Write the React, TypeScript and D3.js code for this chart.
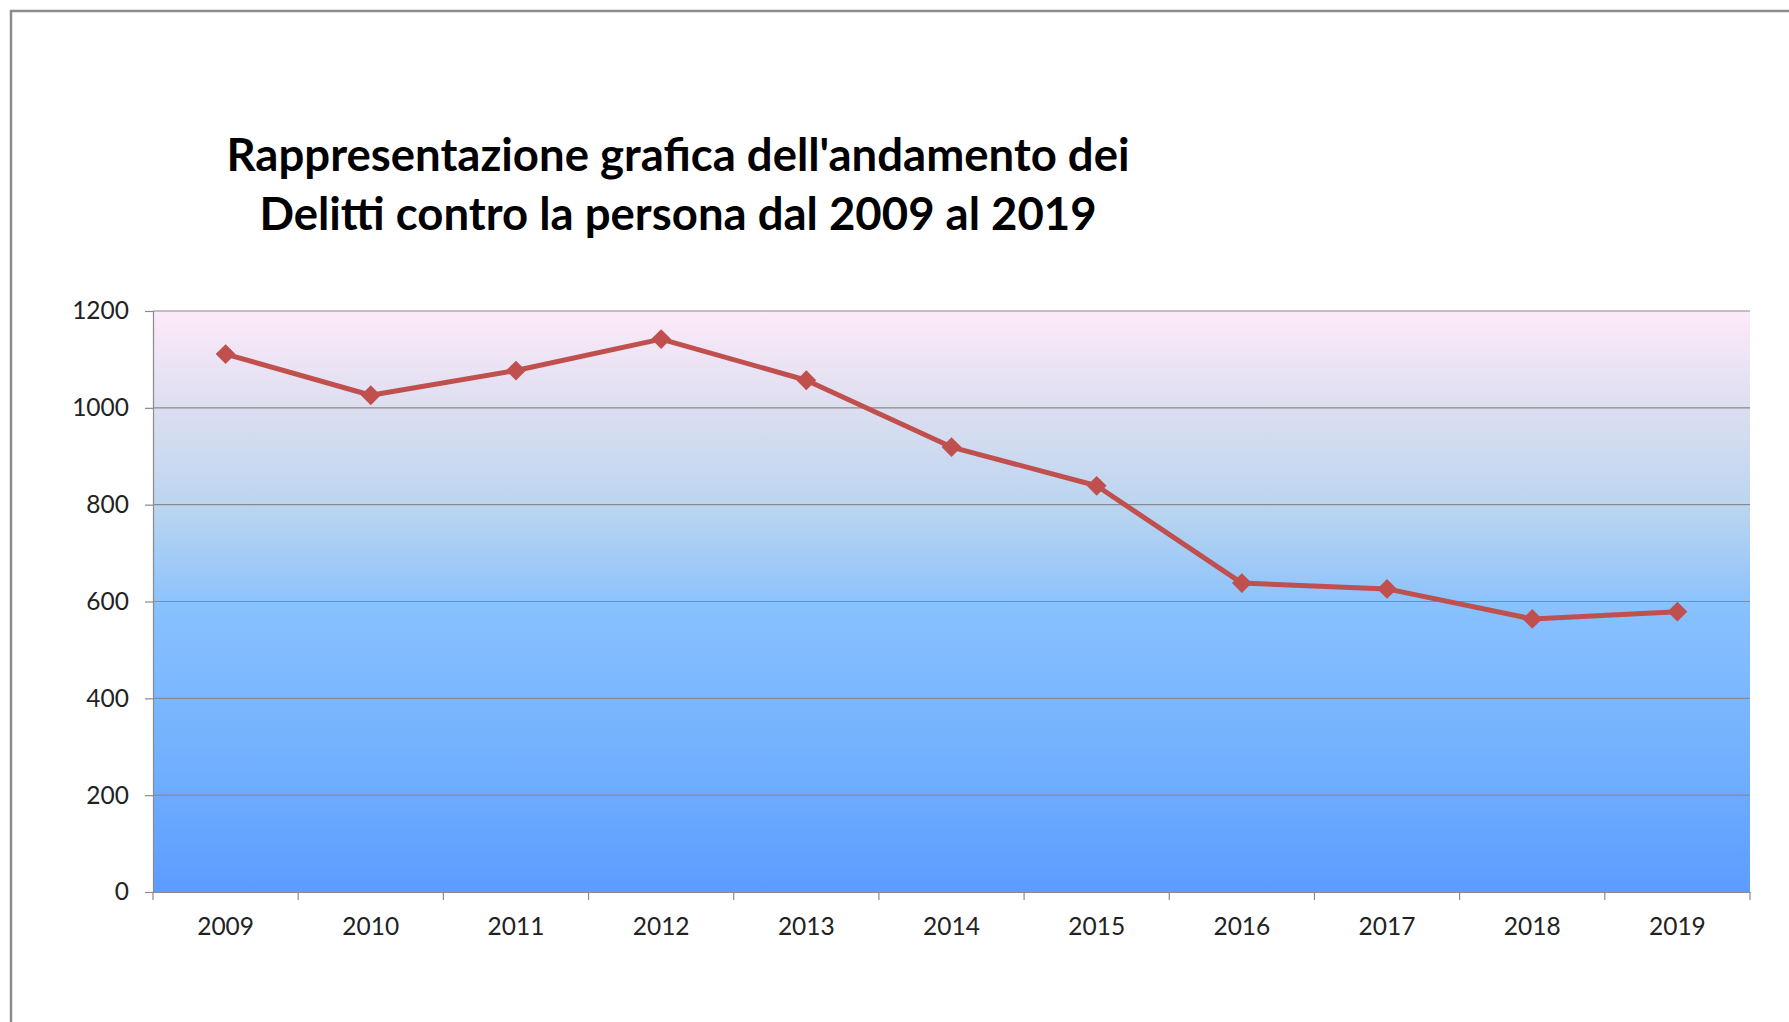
import { useEffect, useRef } from 'react'
import * as d3 from 'd3'

const years = ['2009', '2010', '2011', '2012', '2013', '2014', '2015', '2016', '2017', '2018', '2019']
const delitti = [1111, 1026, 1077, 1142, 1057, 919, 839, 638, 626, 564, 579]
const yTicks = [0, 200, 400, 600, 800, 1000, 1200]
const titleLines = [
  "Rappresentazione grafica dell'andamento dei",
  'Delitti contro la persona dal 2009 al 2019',
]

export default function App() {
  const chartRef = useRef<SVGSVGElement | null>(null)

  useEffect(() => {
    const W = 1789
    const H = 1022
    const margin = { top: 311, right: 39, bottom: 130, left: 153 }
    const width = W - margin.left - margin.right
    const height = H - margin.top - margin.bottom

    const root = d3.select(chartRef.current)
    root.selectAll('*').remove()

    // outer chart frame
    root.append('rect')
      .attr('x', 11).attr('y', 11)
      .attr('width', W + 20).attr('height', H + 20)
      .attr('fill', '#fff')
      .attr('stroke', '#8c8c8c')
      .attr('stroke-width', 2.5)

    const grad = root.append('defs').append('linearGradient')
      .attr('id', 'bg').attr('x1', 0).attr('y1', 0).attr('x2', 0).attr('y2', 1)
    const stops: [number, string][] = [
      [0, '#fdeaf9'],
      [0.17, '#dcdef0'],
      [0.35, '#b8d4f0'],
      [0.52, '#87c0fd'],
      [0.75, '#74b2ff'],
      [1, '#5c9cff'],
    ]
    stops.forEach(([o, c]) => grad.append('stop').attr('offset', o).attr('stop-color', c))

    const g = root.append('g').attr('transform', `translate(${margin.left},${margin.top})`)

    const x = d3.scaleBand().domain(years).range([0, width])
    const y = d3.scaleLinear().domain([0, 1200]).range([height, 0])

    g.append('rect')
      .attr('width', width).attr('height', height)
      .attr('fill', 'url(#bg)')

    // gridlines
    g.selectAll('.grid')
      .data(yTicks.filter(t => t > 0))
      .enter().append('line')
      .attr('x1', 0).attr('x2', width)
      .attr('y1', d => y(d)).attr('y2', d => y(d))
      .attr('stroke', '#8a8a8a').attr('stroke-width', 1.2)

    const yAxis = g.append('g')
      .call(d3.axisLeft(y).tickValues(yTicks).tickFormat(d3.format('d')).tickSize(8).tickPadding(16))
    const xAxis = g.append('g')
      .attr('transform', `translate(0,${height})`)
      .call(d3.axisBottom(x).tickSize(0).tickPadding(26))

    // x ticks sit between the categories
    xAxis.selectAll('.tickmark')
      .data(d3.range(years.length + 1))
      .enter().append('line')
      .attr('x1', i => i * x.step()).attr('x2', i => i * x.step())
      .attr('y1', 0).attr('y2', 8)
      .attr('stroke', '#8a8a8a').attr('stroke-width', 1.2)

    for (const ax of [xAxis, yAxis]) {
      ax.select('.domain').attr('stroke', '#8a8a8a').attr('stroke-width', 1.2)
      ax.selectAll('.tick line').attr('stroke', '#8a8a8a').attr('stroke-width', 1.2)
      ax.selectAll('.tick text')
        .attr('fill', '#222')
        .style('font-family', 'Lato, sans-serif')
        .style('font-size', '24.5px')
    }

    const line = d3.line<number>()
      .x((_, i) => x(years[i])! + x.bandwidth() / 2)
      .y(d => y(d))

    g.append('path')
      .datum(delitti)
      .attr('d', line)
      .attr('fill', 'none')
      .attr('stroke', '#c0504d')
      .attr('stroke-width', 5)
      .attr('stroke-linejoin', 'round')

    g.selectAll('.marker')
      .data(delitti)
      .enter().append('path')
      .attr('d', d3.symbol().type(d3.symbolDiamond2).size(250))
      .attr('transform', (d, i) => `translate(${x(years[i])! + x.bandwidth() / 2},${y(d)})`)
      .attr('fill', '#c0504d')

    root.append('text')
      .attr('x', 678).attr('y', 171)
      .attr('text-anchor', 'middle')
      .style('font-family', 'Lato, sans-serif')
      .style('font-weight', 'bold')
      .style('font-size', '45.5px')
      .attr('fill', '#000')
      .selectAll('tspan')
      .data(titleLines)
      .enter().append('tspan')
      .attr('x', 678)
      .attr('dy', (_, i) => (i === 0 ? 0 : 59))
      .text(d => d)
  }, [])

  return (
    <svg
      ref={chartRef}
      width={1789}
      height={1022}
      style={{ position: 'absolute', left: 0, top: 0, display: 'block' }}
    />
  )
}
